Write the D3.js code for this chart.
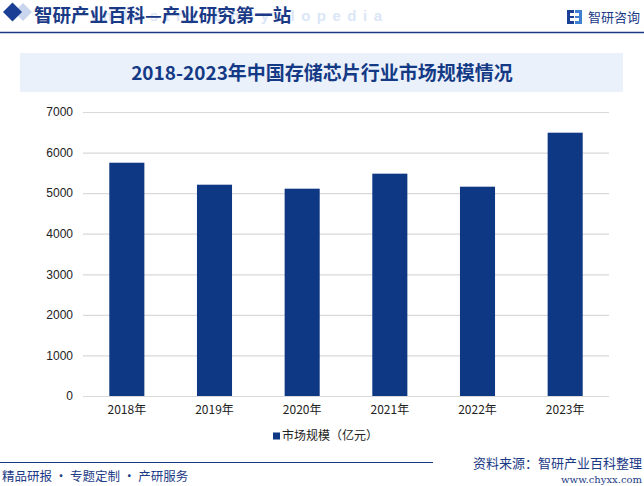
<!DOCTYPE html>
<html>
<head>
<meta charset="utf-8">
<script src="https://cdn.jsdelivr.net/npm/d3@7"></script>
<style>
  html, body { margin: 0; padding: 0; background: #fff; }
  svg { display: block; }
</style>
</head>
<body>
<svg id="chart"></svg>
<script>
// data
var years = ['2018年', '2019年', '2020年', '2021年', '2022年', '2023年'];
var marketSize = [5750, 5208, 5110, 5480, 5159, 6490];
var yTicks = [0, 1000, 2000, 3000, 4000, 5000, 6000, 7000];
var seriesName = '市场规模（亿元）';

var width = 644;
var height = 486;
var cjk = '"Noto Sans CJK SC", "Noto Sans", sans-serif';
var navy = '#0e3883';

var margin = {
    top: 112,
    right: 35,
    bottom: 90,
    left: 83
};
var innerWidth = width - margin.left - margin.right;
var innerHeight = height - margin.top - margin.bottom;

var svg = d3.select('#chart')
    .attr('width', width)
    .attr('height', height);

// header
svg.append('path')
    .attr('d', 'M23,3 L32,12 L23,21 L14,12 Z')
    .attr('fill', '#c9d6ee');
svg.append('path')
    .attr('d', 'M12.5,2.5 L22,12 L12.5,21.5 L3,12 Z')
    .attr('fill', '#1b3f95');

svg.append('text')
    .attr('x', 92)
    .attr('y', 21)
    .attr('fill', '#dbe6f6')
    .attr('font-family', 'Arial, sans-serif')
    .attr('font-size', 15)
    .attr('font-weight', 'bold')
    .attr('letter-spacing', 6.5)
    .text('Industry Encyclopedia');

svg.append('text')
    .attr('x', 34)
    .attr('y', 22)
    .attr('fill', '#1b3a86')
    .attr('font-family', cjk)
    .attr('font-size', 18.5)
    .attr('font-weight', 'bold')
    .text('智研产业百科—产业研究第一站');

// logo on the right
var logo = svg.append('g').attr('transform', 'translate(567,10)');
logo.append('rect').attr('x', 0).attr('y', 0).attr('width', 7).attr('height', 14).attr('fill', '#1b3f95');
logo.append('rect').attr('x', 8).attr('y', 0).attr('width', 7).attr('height', 14).attr('fill', '#3f7fd0');
logo.append('rect').attr('x', 3).attr('y', 3).attr('width', 9).attr('height', 3).attr('fill', '#fff');
logo.append('rect').attr('x', 3).attr('y', 8).attr('width', 9).attr('height', 3).attr('fill', '#fff');
svg.append('text')
    .attr('x', 588)
    .attr('y', 22)
    .attr('fill', '#1b3a86')
    .attr('font-family', cjk)
    .attr('font-size', 13)
    .text('智研咨询');

svg.append('line')
    .attr('x1', 0).attr('x2', width)
    .attr('y1', 32.5).attr('y2', 32.5)
    .attr('stroke', '#1b3a86')
    .attr('stroke-width', 1.5);

// title box
svg.append('rect')
    .attr('x', 20).attr('y', 53)
    .attr('width', 603).attr('height', 39)
    .attr('fill', '#eaf1fb');
svg.append('text')
    .attr('x', 322)
    .attr('y', 73)
    .attr('dy', '0.35em')
    .attr('text-anchor', 'middle')
    .attr('fill', '#143a86')
    .attr('font-family', cjk)
    .attr('font-size', 19)
    .attr('font-weight', 'bold')
    .text('2018-2023年中国存储芯片行业市场规模情况');

// plot
var g = svg.append('g')
    .attr('transform', `translate(${margin.left},${margin.top})`);

var x = d3.scaleBand()
    .domain(years)
    .range([0, innerWidth])
    .paddingInner(0.6)
    .paddingOuter(0.3);

var y = d3.scaleLinear()
    .domain([0, 7000])
    .range([innerHeight, 0]);

var yAxis = g.append('g')
    .call(d3.axisLeft(y).tickValues(yTicks).tickSize(-innerWidth).tickPadding(10).tickFormat(d3.format('d')));
yAxis.select('.domain').remove();
yAxis.selectAll('.tick line')
    .attr('stroke', '#d9d9d9')
    .attr('stroke-width', 1.2);
yAxis.selectAll('.tick text')
    .attr('fill', '#222')
    .attr('font-family', 'Arial, "Liberation Sans", sans-serif')
    .attr('font-size', 12);

g.selectAll('rect.bar').data(marketSize)
    .enter().append('rect')
    .attr('class', 'bar')
    .attr('x', (d, i) => x(years[i]))
    .attr('y', d => y(d))
    .attr('width', x.bandwidth())
    .attr('height', d => innerHeight - y(d))
    .attr('fill', navy);

var xAxis = g.append('g')
    .attr('transform', `translate(0,${innerHeight})`)
    .call(d3.axisBottom(x).tickSize(0).tickPadding(9));
xAxis.select('.domain').remove();
xAxis.selectAll('.tick text')
    .attr('fill', '#222')
    .attr('font-family', cjk)
    .attr('font-size', 12);

// legend
var legend = svg.append('g').attr('transform', 'translate(273,436)');
legend.append('rect')
    .attr('x', 0).attr('y', -3.5)
    .attr('width', 7).attr('height', 7)
    .attr('fill', navy);
legend.append('text')
    .attr('x', 9)
    .attr('y', 0)
    .attr('dy', '0.35em')
    .attr('fill', '#222')
    .attr('font-family', cjk)
    .attr('font-size', 12)
    .text(seriesName);

// footer
svg.append('line')
    .attr('x1', 0).attr('x2', 433)
    .attr('y1', 462.5).attr('y2', 462.5)
    .attr('stroke', '#1b3a86')
    .attr('stroke-width', 1.2);
svg.append('text')
    .attr('x', 2)
    .attr('y', 481)
    .attr('fill', '#1b3a86')
    .attr('font-family', cjk)
    .attr('font-size', 12.5)
    .text('精品研报 · 专题定制 · 产研服务');
svg.append('text')
    .attr('x', 642)
    .attr('y', 468)
    .attr('text-anchor', 'end')
    .attr('fill', '#1b3a86')
    .attr('font-family', cjk)
    .attr('font-size', 13)
    .text('资料来源：智研产业百科整理');
svg.append('text')
    .attr('x', 642)
    .attr('y', 483)
    .attr('text-anchor', 'end')
    .attr('fill', '#1b3a86')
    .attr('font-family', '"DejaVu Serif", serif')
    .attr('font-size', 10)
    .text('www.chyxx.com');
</script>
</body>
</html>
